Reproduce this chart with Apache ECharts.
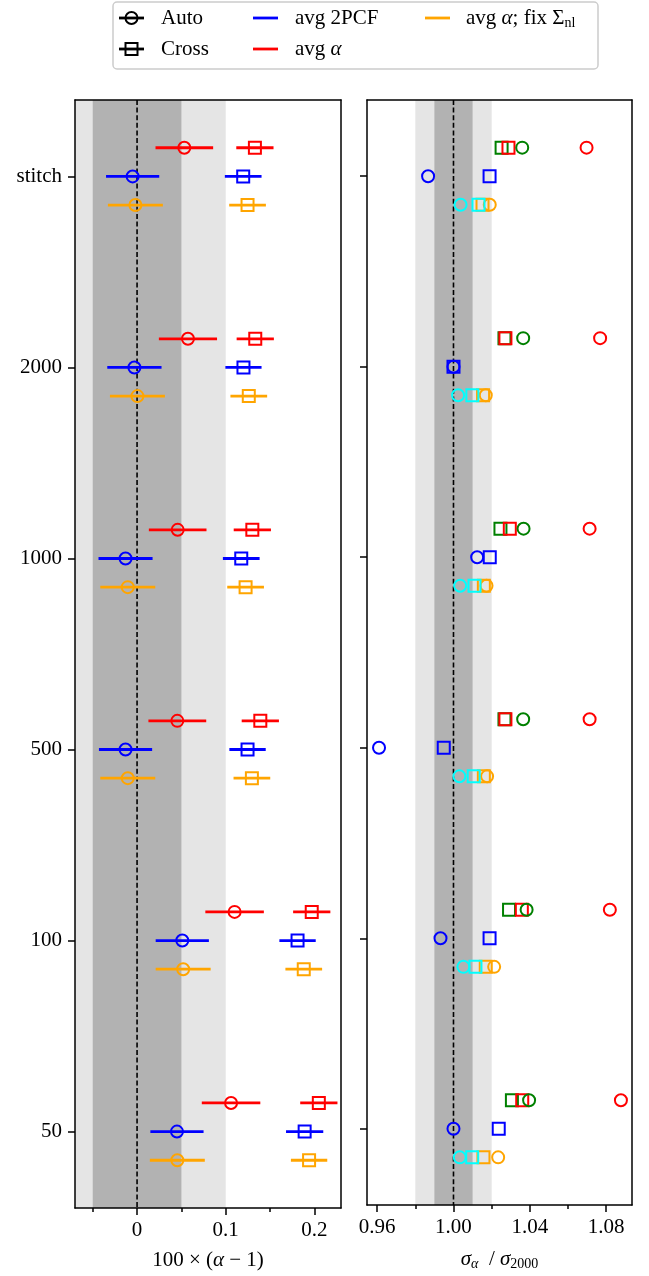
<!DOCTYPE html>
<html>
<head>
<meta charset="utf-8">
<script src="https://cdn.jsdelivr.net/npm/echarts@6/dist/echarts.min.js"></script>
<style>
  html, body { margin: 0; padding: 0; background: #fff; }
  #chart { width: 649px; height: 1276px; }
</style>
</head>
<body>
<div id="chart"></div>
<script>
// Sample labels, bottom to top (plotted at y = 0..5)
const categories = ['50', '100', '500', '1000', '2000', 'stitch'];

// Vertical offsets of the three fitting variants within one sample row
const offsetAvgAlpha = 0.15;
const offsetAvg2PCF = 0;
const offsetFixSigma = -0.15;

// ---- Left panel: 100 x (alpha - 1) with 1-sigma errors ----
const avg2pcfAuto      = [0.045, 0.051, -0.013, -0.013, -0.003, -0.005];
const avg2pcfAutoErr   = [0.030, 0.030, 0.030, 0.0305, 0.0306, 0.030];
const avg2pcfCross     = [0.189, 0.181, 0.1246, 0.1175, 0.120, 0.1197];
const avg2pcfCrossErr  = [0.021, 0.0205, 0.0205, 0.0207, 0.0204, 0.0207];
const avgAlphaAuto     = [0.106, 0.110, 0.0454, 0.0458, 0.0574, 0.0533];
const avgAlphaAutoErr  = [0.033, 0.033, 0.0326, 0.0325, 0.0328, 0.0325];
const avgAlphaCross    = [0.205, 0.197, 0.139, 0.130, 0.1333, 0.1329];
const avgAlphaCrossErr = [0.021, 0.021, 0.021, 0.021, 0.021, 0.021];
const fixSigmaAuto     = [0.0454, 0.052, -0.0105, -0.0105, 0.0004, -0.0019];
const fixSigmaAutoErr  = [0.031, 0.031, 0.031, 0.031, 0.031, 0.031];
const fixSigmaCross    = [0.194, 0.188, 0.1295, 0.1224, 0.126, 0.1246];
const fixSigmaCrossErr = [0.0205, 0.0207, 0.0207, 0.0207, 0.0207, 0.0207];

// ---- Right panel: sigma_alpha / sigma_2000 ----
const ratioAvgAlphaAuto   = [1.0877, 1.0819, 1.0713, 1.0713, 1.0768, 1.0697];
const ratioAvgAlphaCross  = [1.036, 1.0358, 1.0272, 1.0295, 1.0272, 1.0288];
const ratioGreenAuto      = [1.0396, 1.0383, 1.0365, 1.0367, 1.0365, 1.036];
const ratioGreenCross     = [1.0306, 1.0291, 1.0267, 1.0246, 1.0267, 1.0252];
const ratioAvg2pcfAuto    = [1.000, 0.9932, 0.961, 1.0124, 1.000, 0.9867];
const ratioAvg2pcfCross   = [1.0237, 1.0189, 0.9949, 1.019, 1.000, 1.0189];
const ratioFixSigmaAuto   = [1.0234, 1.0213, 1.0176, 1.0173, 1.0169, 1.019];
const ratioFixSigmaCross  = [1.0157, 1.0169, 1.0159, 1.0159, 1.0155, 1.0152];
const ratioCyanAuto       = [1.0033, 1.0052, 1.0031, 1.0035, 1.0024, 1.0037];
const ratioCyanCross      = [1.0098, 1.0115, 1.0106, 1.011, 1.0099, 1.0131];

// Axis ticks
const alphaTicks = [0, 0.1, 0.2];
const alphaMinorTicks = [-0.05, 0.05, 0.15];
const sigmaTicks = [0.96, 1.00, 1.04, 1.08];
const sigmaMinorTicks = [0.98, 1.02, 1.06];

// Reference bands and lines
const alphaBandOuter = [-0.1, 0.1];
const alphaBandInner = [-0.05, 0.05];
const alphaRef = [0];
const sigmaBandOuter = [0.98, 1.02];
const sigmaBandInner = [0.99, 1.01];
const sigmaRef = [1];

const FONT = '"Liberation Serif", "Times New Roman", serif';
const FS = 21;
const RED = '#ff0000', BLUE = '#0000ff', ORANGE = '#ffa500', GREEN = '#008000', CYAN = '#00ffff';
const C_OUTER = '#e5e5e5', C_INNER = '#b2b2b2';

const yRange = { min: -0.4, max: 5.4 };

function bandSeries(range, color, gi) {
  return {
    type: 'custom', xAxisIndex: gi * 3, yAxisIndex: gi * 2, z: 1, silent: true, clip: true,
    data: [[range[0], range[1]]],
    encode: { x: [0, 1] },
    renderItem(params, api) {
      const cs = params.coordSys;
      let x1 = api.coord([api.value(0), 0])[0];
      let x2 = api.coord([api.value(1), 0])[0];
      x1 = Math.max(x1, cs.x); x2 = Math.min(x2, cs.x + cs.width);
      return { type: 'rect', shape: { x: x1, y: cs.y, width: x2 - x1, height: cs.height },
               style: { fill: color } };
    }
  };
}

function refLineSeries(vals, gi) {
  return {
    type: 'custom', xAxisIndex: gi * 3, yAxisIndex: gi * 2, z: 2, silent: true,
    data: vals.map(v => [v]),
    encode: { x: 0 },
    renderItem(params, api) {
      const cs = params.coordSys;
      const x = api.coord([api.value(0), 0])[0];
      return { type: 'line', shape: { x1: x, y1: cs.y, x2: x, y2: cs.y + cs.height },
               style: { stroke: '#000', lineWidth: 1.6, lineDash: [5, 2.6] } };
    }
  };
}

function errorBars(vals, errs, offset, color) {
  return {
    type: 'custom', xAxisIndex: 0, yAxisIndex: 0, z: 4, silent: true,
    data: vals.map((v, i) => [v, errs[i], i + offset]),
    encode: { x: 0, y: 2 },
    renderItem(params, api) {
      const c = api.value(0), e = api.value(1), y = api.value(2);
      const p1 = api.coord([c - e, y]);
      const p2 = api.coord([c + e, y]);
      return { type: 'line', shape: { x1: p1[0], y1: p1[1], x2: p2[0], y2: p2[1] },
               style: { stroke: color, lineWidth: 2.8 } };
    }
  };
}

function markers(vals, offset, symbol, color, gi) {
  return {
    type: 'scatter', xAxisIndex: gi * 3, yAxisIndex: gi * 2, z: 5, silent: true,
    data: vals.map((v, i) => [v, i + offset]),
    symbol: symbol, symbolSize: 12,
    itemStyle: { color: 'rgba(0,0,0,0)', borderColor: color, borderWidth: 2, opacity: 1 },
    emphasis: { disabled: true }
  };
}

const labelStyle = { color: '#000', fontFamily: FONT, fontSize: FS };
const lineBlack = { color: '#000', width: 1.5 };

function xAxesFor(gi, min, max, ticks, minor, fmt, name, rich) {
  return [
    {
      gridIndex: gi, type: 'value', min, max, position: 'bottom', z: 3,
      axisLine: { show: true, onZero: false, lineStyle: lineBlack },
      axisTick: { show: true, customValues: ticks, length: 7, lineStyle: lineBlack },
      axisLabel: Object.assign({ customValues: ticks, formatter: fmt, margin: 12 }, labelStyle),
      splitLine: { show: false },
      name, nameLocation: 'middle', nameGap: 42,
      nameTextStyle: Object.assign({ rich }, labelStyle)
    },
    {
      gridIndex: gi, type: 'value', min, max, position: 'bottom', z: 3,
      axisLine: { show: false, onZero: false },
      axisTick: { show: true, customValues: minor, length: 4, lineStyle: lineBlack },
      axisLabel: { show: false },
      splitLine: { show: false }
    },
    {
      gridIndex: gi, type: 'value', min, max, position: 'top', z: 3,
      axisLine: { show: true, onZero: false, lineStyle: lineBlack },
      axisTick: { show: false }, axisLabel: { show: false }, splitLine: { show: false }
    }
  ];
}

function yAxesFor(gi, showLabels) {
  const ticks = categories.map((c, i) => i);
  return [
    {
      gridIndex: gi, type: 'value', min: yRange.min, max: yRange.max, position: 'left', z: 3,
      axisLine: { show: true, onZero: false, lineStyle: lineBlack },
      axisTick: { show: true, customValues: ticks, length: 7, lineStyle: lineBlack },
      axisLabel: showLabels
        ? Object.assign({ customValues: ticks, margin: 13, formatter: v => categories[Math.round(v)] }, labelStyle)
        : { show: false },
      splitLine: { show: false }
    },
    {
      gridIndex: gi, type: 'value', min: yRange.min, max: yRange.max, position: 'right', z: 3,
      axisLine: { show: true, onZero: false, lineStyle: lineBlack },
      axisTick: { show: false }, axisLabel: { show: false }, splitLine: { show: false }
    }
  ];
}

const richMath = {
  it: { fontFamily: FONT, fontStyle: 'italic', fontSize: FS, color: '#000' },
  sub: { fontFamily: FONT, fontSize: 14, color: '#000', padding: [10, 0, 0, 0] },
  itsub: { fontFamily: FONT, fontStyle: 'italic', fontSize: 14, color: '#000', padding: [10, 0, 0, 0] }
};

const series = [
  // left panel background
  bandSeries([Math.max(alphaBandOuter[0], -0.07), alphaBandOuter[1]], C_OUTER, 0),
  bandSeries(alphaBandInner, C_INNER, 0),
  refLineSeries(alphaRef, 0),
  // avg alpha (red)
  errorBars(avgAlphaAuto, avgAlphaAutoErr, offsetAvgAlpha, RED),
  markers(avgAlphaAuto, offsetAvgAlpha, 'circle', RED, 0),
  errorBars(avgAlphaCross, avgAlphaCrossErr, offsetAvgAlpha, RED),
  markers(avgAlphaCross, offsetAvgAlpha, 'rect', RED, 0),
  // avg 2PCF (blue)
  errorBars(avg2pcfAuto, avg2pcfAutoErr, offsetAvg2PCF, BLUE),
  markers(avg2pcfAuto, offsetAvg2PCF, 'circle', BLUE, 0),
  errorBars(avg2pcfCross, avg2pcfCrossErr, offsetAvg2PCF, BLUE),
  markers(avg2pcfCross, offsetAvg2PCF, 'rect', BLUE, 0),
  // avg alpha, fixed Sigma_nl (orange)
  errorBars(fixSigmaAuto, fixSigmaAutoErr, offsetFixSigma, ORANGE),
  markers(fixSigmaAuto, offsetFixSigma, 'circle', ORANGE, 0),
  errorBars(fixSigmaCross, fixSigmaCrossErr, offsetFixSigma, ORANGE),
  markers(fixSigmaCross, offsetFixSigma, 'rect', ORANGE, 0),

  // right panel background
  bandSeries(sigmaBandOuter, C_OUTER, 1),
  bandSeries(sigmaBandInner, C_INNER, 1),
  refLineSeries(sigmaRef, 1),
  // top row
  markers(ratioGreenCross, offsetAvgAlpha, 'rect', GREEN, 1),
  markers(ratioAvgAlphaCross, offsetAvgAlpha, 'rect', RED, 1),
  markers(ratioGreenAuto, offsetAvgAlpha, 'circle', GREEN, 1),
  markers(ratioAvgAlphaAuto, offsetAvgAlpha, 'circle', RED, 1),
  // middle row
  markers(ratioAvg2pcfAuto, offsetAvg2PCF, 'circle', BLUE, 1),
  markers(ratioAvg2pcfCross, offsetAvg2PCF, 'rect', BLUE, 1),
  // bottom row
  markers(ratioFixSigmaCross, offsetFixSigma, 'rect', ORANGE, 1),
  markers(ratioFixSigmaAuto, offsetFixSigma, 'circle', ORANGE, 1),
  markers(ratioCyanAuto, offsetFixSigma, 'circle', CYAN, 1),
  markers(ratioCyanCross, offsetFixSigma, 'rect', CYAN, 1)
];

// Legend drawn as a framed key at the top
const legendFont = FS + 'px ' + FONT;
function legText(x, y, text, rich) {
  return { type: 'text', x, y, z: 10,
    style: { text, font: legendFont, fill: '#000', verticalAlign: 'middle', align: 'left', rich } };
}
function legLine(x1, x2, y, color) {
  return { type: 'line', z: 10, shape: { x1, y1: y, x2, y2: y }, style: { stroke: color, lineWidth: 2.8 } };
}
const ROW1 = 18, ROW2 = 49;
const legendRich = {
  it: { font: 'italic ' + FS + 'px ' + FONT, fill: '#000' },
  sub: { font: '14px ' + FONT, fill: '#000', padding: [10, 0, 0, 0] }
};
const graphic = [
  { type: 'rect', z: 9, shape: { x: 113, y: 2, width: 485, height: 67, r: 4 },
    style: { fill: 'rgba(255,255,255,0.8)', stroke: '#cccccc', lineWidth: 1.5 } },
  legLine(119, 144, ROW1, '#000'),
  { type: 'circle', z: 10, shape: { cx: 131.5, cy: ROW1, r: 6 },
    style: { fill: 'none', stroke: '#000', lineWidth: 2 } },
  legText(161, ROW1, 'Auto'),
  legLine(119, 144, ROW2, '#000'),
  { type: 'rect', z: 10, shape: { x: 125.5, y: ROW2 - 6, width: 12, height: 12 },
    style: { fill: 'none', stroke: '#000', lineWidth: 2 } },
  legText(161, ROW2, 'Cross'),
  legLine(253, 278, ROW1, BLUE),
  legText(295, ROW1, 'avg 2PCF'),
  legLine(253, 278, ROW2, RED),
  legText(295, ROW2, 'avg {it|α}', legendRich),
  legLine(425, 450, ROW1, ORANGE),
  legText(466, ROW1, 'avg {it|α}; fix Σ{sub|nl}', legendRich)
];

const chart = echarts.init(document.getElementById('chart'), null, { renderer: 'canvas' });
chart.setOption({
  animation: false,
  backgroundColor: '#ffffff',
  textStyle: { fontFamily: FONT },
  grid: [
    { left: 75, top: 100, width: 266, height: 1108, show: false },
    { left: 367, top: 100, width: 265, height: 1108, show: false }
  ],
  xAxis: [
    ...xAxesFor(0, -0.07, 0.23, alphaTicks, alphaMinorTicks,
      v => (Math.abs(v) < 1e-9 ? '0' : v.toFixed(1)),
      '100 × ({it|α} − 1)', richMath),
    ...xAxesFor(1, 0.9547, 1.0935, sigmaTicks, sigmaMinorTicks,
      v => v.toFixed(2),
      '{it|σ}{itsub|α}  / {it|σ}{sub|2000}', richMath)
  ],
  yAxis: [
    ...yAxesFor(0, true),
    ...yAxesFor(1, false)
  ],
  series,
  graphic
});
</script>
</body>
</html>
